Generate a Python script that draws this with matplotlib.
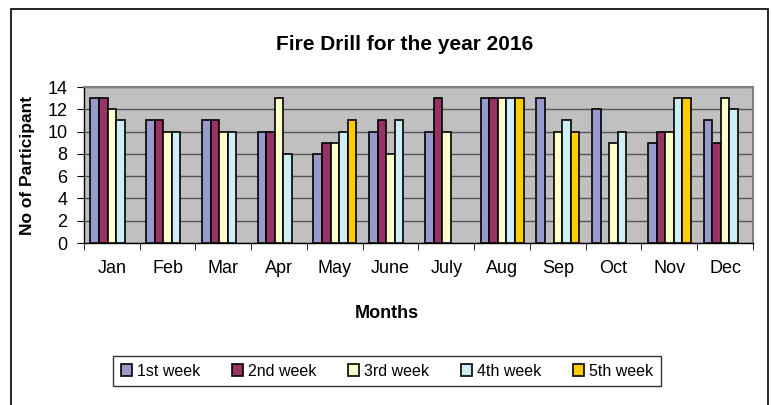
import numpy as np
import matplotlib
matplotlib.use('Agg')
import matplotlib.pyplot as plt
from matplotlib.patches import Rectangle

plt.rcParams['font.family'] = ['Liberation Sans', 'DejaVu Sans']

months = ['Jan', 'Feb', 'Mar', 'Apr', 'May', 'June', 'July', 'Aug', 'Sep', 'Oct', 'Nov', 'Dec']
nan = np.nan
week1 = [13, 11, 11, 10, 8, 10, 10, 13, 13, 12, 9, 11]
week2 = [13, 11, 11, 10, 9, 11, 13, 13, nan, nan, 10, 9]
week3 = [12, 10, 10, 13, 9, 8, 10, 13, 10, 9, 10, 13]
week4 = [11, 10, 10, 8, 10, 11, nan, 13, 11, 10, 13, 12]
week5 = [nan, nan, nan, nan, 11, nan, nan, 13, 10, nan, 13, nan]

series = [week1, week2, week3, week4, week5]
labels = ['1st week', '2nd week', '3rd week', '4th week', '5th week']
colors = ['#9999CC', '#993366', '#FFFFCC', '#CCEEF4', '#FFCC00']

fig = plt.figure(figsize=(7.72, 4.05), dpi=100)
# chart frame running off the bottom edge
fig.patches.append(Rectangle((11 / 772, -0.1), 757 / 772, 1.1 - 9 / 405,
                             transform=fig.transFigure, fill=False,
                             edgecolor='black', linewidth=1.2))

ax = fig.add_axes([84 / 772, 1 - 243 / 405, 669 / 772, 156 / 405])
ax.set_facecolor('#C0C0C0')

x = np.arange(len(months))
w = 1 / 6.5
for i, (vals, lab, col) in enumerate(zip(series, labels, colors)):
    ax.bar(x + (i - 2) * w, vals, width=w, color=col, edgecolor='black',
           linewidth=1.2, label=lab, zorder=3)

ax.set_xlim(-0.5, len(months) - 0.5)
ax.set_ylim(0, 14)
ax.set_yticks(range(0, 15, 2))
ax.yaxis.grid(True, color='#555555', linewidth=1.0, zorder=1)
ax.set_axisbelow(True)

ax.set_xticks(x)
ax.set_xticklabels(months, fontsize=13)
ax.set_xticks(np.arange(-0.5, len(months)), minor=True)
ax.tick_params(axis='x', which='major', length=0, pad=12)
ax.tick_params(axis='x', which='minor', length=5, direction='out', color='black')
ax.tick_params(axis='y', length=5, direction='out', labelsize=13, pad=7)

for side in ['top', 'right']:
    ax.spines[side].set_color('#808080')
    ax.spines[side].set_linewidth(1.5)
for side in ['left', 'bottom']:
    ax.spines[side].set_color('black')
    ax.spines[side].set_linewidth(1.0)

fig.text(405 / 772, 1 - 45 / 405, 'Fire Drill for the year 2016', ha='center',
         va='center', fontsize=15, fontweight='bold')
fig.text(387 / 772, 1 - 313 / 405, 'Months', ha='center', va='center',
         fontsize=13, fontweight='bold')
fig.text(28 / 772, 1 - 165 / 405, 'No of Participant', ha='center', va='center',
         rotation=90, fontsize=12.5, fontweight='bold')

leg = fig.legend(loc='center', bbox_to_anchor=(387 / 772, 1 - 371 / 405), ncol=5,
                 fontsize=11.5, frameon=True, fancybox=False, edgecolor='black',
                 handlelength=0.7, handleheight=0.7, handletextpad=0.3,
                 columnspacing=2.0, borderpad=0.45)
leg.get_frame().set_linewidth(1.0)

fig.savefig('out.png', dpi=100)
